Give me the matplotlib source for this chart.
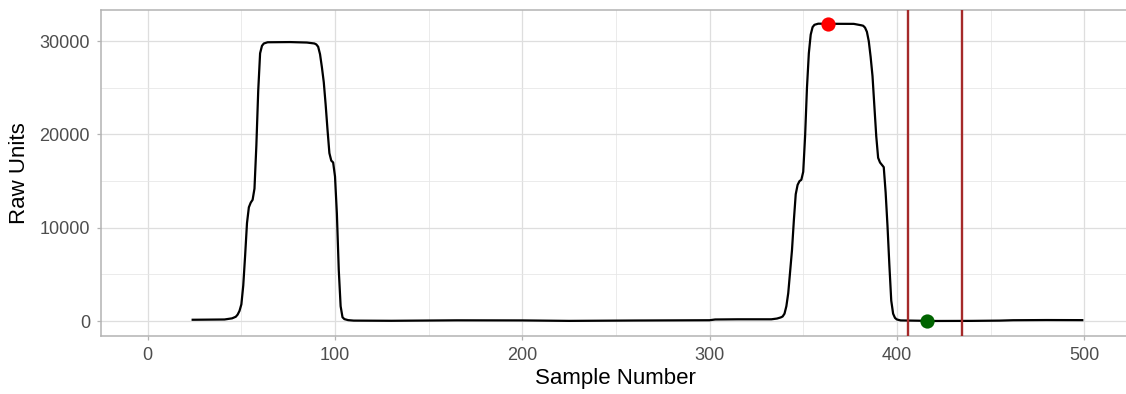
import matplotlib
matplotlib.use("Agg")
import matplotlib.pyplot as plt
from matplotlib.ticker import MultipleLocator

# raw trace (sample index, raw units)
sample = [24, 30, 41, 45, 47, 48, 49, 50, 51, 52, 53, 54, 55, 56, 57, 58, 59,
          60, 61, 62, 64, 76, 85, 89, 90, 91, 92, 93, 94, 95, 96, 97, 98, 99,
          100, 101, 102, 103, 104, 105, 107, 110, 130, 165, 200, 225, 260,
          300, 303, 315, 333, 336, 338, 339, 340, 341, 342, 343, 344, 345,
          346, 347, 348, 349, 350, 351, 352, 353, 354, 355, 356, 358, 363,
          377, 381, 382, 383, 384, 385, 386, 387, 388, 389, 390, 391, 392,
          393, 394, 395, 396, 397, 398, 399, 400, 402, 420, 440, 455, 462,
          480, 499]
raw = [150, 160, 180, 300, 470, 700, 1100, 1800, 3800, 7000, 10500, 12200,
       12700, 13000, 14200, 18800, 24700, 28700, 29500, 29750, 29880, 29900,
       29850, 29750, 29650, 29400, 28600, 27200, 25600, 23200, 20500, 18000,
       17200, 17000, 15500, 11500, 5500, 1600, 420, 220, 110, 60, 40, 90, 80,
       30, 70, 100, 180, 200, 200, 280, 400, 500, 800, 1600, 3000, 5300,
       7600, 10800, 13600, 14600, 15000, 15150, 16000, 19800, 25000, 28700,
       30700, 31500, 31750, 31870, 31860, 31850, 31700, 31650, 31450, 31000,
       30000, 28300, 26250, 23000, 19800, 17500, 17000, 16750, 16500, 13800,
       10200, 6000, 2200, 800, 350, 180, 80, 20, 30, 60, 100, 120, 110]

peak = (363, 31860)
trough = (416, 20)
window = [406, 435]

fam = ["Liberation Sans", "DejaVu Sans"]
plt.rcParams["font.family"] = fam

fig = plt.figure(figsize=(11.26, 3.94), dpi=100)
# panel runs slightly past the right edge of the canvas
ax = fig.add_axes([101 / 1126, 0.1472, 1028 / 1126, 0.8275])

ax.plot(sample, raw, color="black", lw=1.6, zorder=3)
for v in window:
    ax.axvline(v, color="#A52A2A", lw=1.7, zorder=4)
ax.scatter([peak[0]], [peak[1]], s=105, color="red", zorder=5, linewidths=0)
ax.scatter([trough[0]], [trough[1]], s=105, color="#006400", zorder=5,
           linewidths=0)

ax.set_xlim(-24.95, 523.95)
ax.set_ylim(-1590, 33340)
ax.xaxis.set_major_locator(MultipleLocator(100))
ax.xaxis.set_minor_locator(MultipleLocator(50))
ax.yaxis.set_major_locator(MultipleLocator(10000))
ax.yaxis.set_minor_locator(MultipleLocator(5000))

ax.grid(which="major", color="#DEDEDE", lw=0.9)
ax.grid(which="minor", color="#E6E6E6", lw=0.55)
ax.set_axisbelow(True)
for s in ax.spines.values():
    s.set_color("#B3B3B3")
    s.set_linewidth(1.1)

ax.tick_params(which="major", length=3, width=0.9, color="#B3B3B3",
               labelcolor="#4D4D4D", labelsize=13, pad=5)
ax.tick_params(which="minor", length=0)

ax.set_xlabel("Sample Number", fontsize=16, labelpad=3)
ax.set_ylabel("Raw Units", fontsize=16, labelpad=7)

fig.savefig("out.png", dpi=100)
